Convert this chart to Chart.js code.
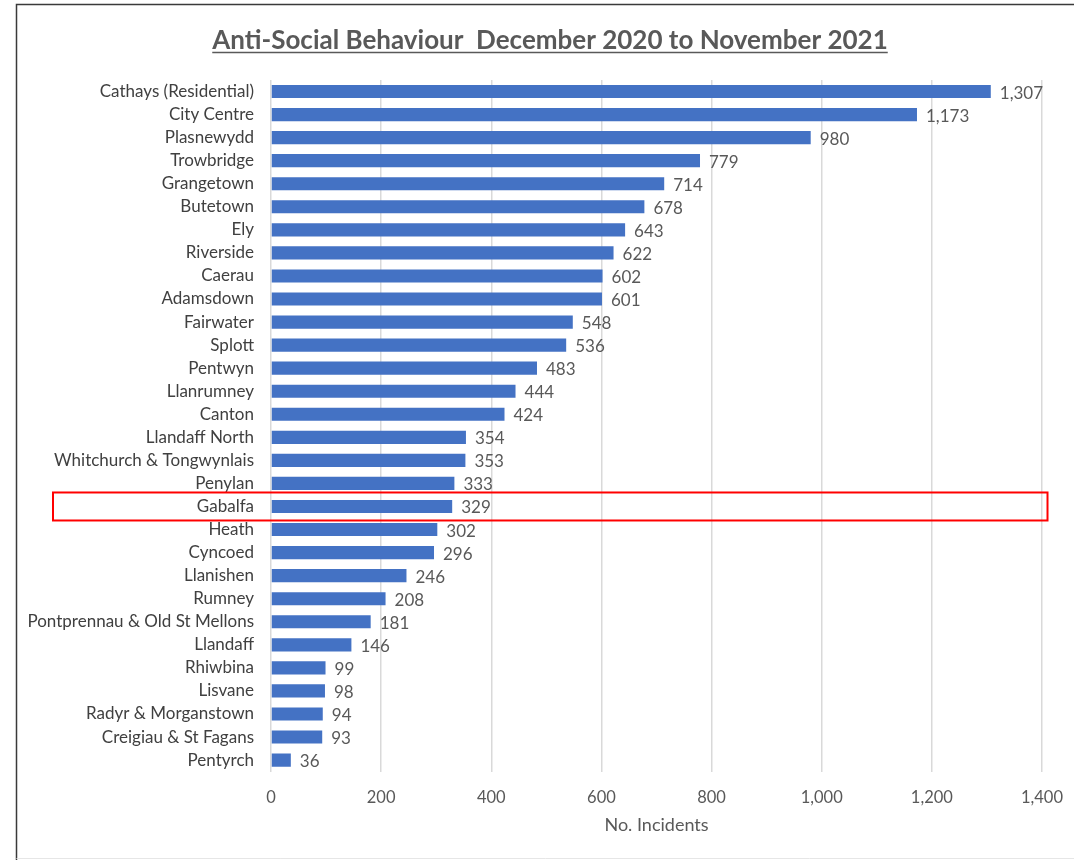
<!DOCTYPE html>
<html>
<head>
<meta charset="utf-8">
<script src="https://cdn.jsdelivr.net/npm/chart.js@4.4.0/dist/chart.umd.min.js"></script>
<style>
html,body{margin:0;padding:0;background:#fff;}
#wrap{position:relative;width:1074px;height:860px;}
</style>
</head>
<body>
<div id="wrap"><canvas id="c" width="1074" height="860"></canvas></div>
<script>
const chartTitle = "Anti-Social Behaviour  December 2020 to November 2021";
const axisTitle = "No. Incidents";
const categories = ["Cathays (Residential)","City Centre","Plasnewydd","Trowbridge","Grangetown","Butetown","Ely","Riverside","Caerau","Adamsdown","Fairwater","Splott","Pentwyn","Llanrumney","Canton","Llandaff North","Whitchurch & Tongwynlais","Penylan","Gabalfa","Heath","Cyncoed","Llanishen","Rumney","Pontprennau & Old St Mellons","Llandaff","Rhiwbina","Lisvane","Radyr & Morganstown","Creigiau & St Fagans","Pentyrch"];
const incidents = [1307,1173,980,779,714,678,643,622,602,601,548,536,483,444,424,354,353,333,329,302,296,246,208,181,146,99,98,94,93,36];
const highlighted = "Gabalfa";
const xMin = 0, xMax = 1400, xStep = 200;

const FONT = "Lato, 'Open Sans', sans-serif";

const decor = {
  id: 'decor',
  beforeDraw(chart) {
    const ctx = chart.ctx;
    ctx.save();
    ctx.fillStyle = '#fff';
    ctx.fillRect(0, 0, chart.width, chart.height);
    ctx.strokeStyle = '#3a3a3a';
    ctx.lineWidth = 1.5;
    ctx.beginPath();
    ctx.moveTo(16.5, 860);
    ctx.lineTo(16.5, 4.5);
    ctx.lineTo(1074, 4.5);
    ctx.stroke();
    ctx.strokeStyle = '#e6e6e6';
    ctx.lineWidth = 1;
    ctx.beginPath();
    ctx.moveTo(16.5, 858.5);
    ctx.lineTo(1074, 858.5);
    ctx.stroke();
    ctx.restore();
  },
  afterDraw(chart) {
    const ctx = chart.ctx;
    const x = chart.scales.x, y = chart.scales.y;
    ctx.save();
    // title
    ctx.font = "bold 26px " + FONT;
    ctx.fillStyle = '#595959';
    ctx.textAlign = 'center';
    ctx.textBaseline = 'alphabetic';
    const cx = 550, ty = 49;
    ctx.fillText(chartTitle, cx, ty);
    const w = ctx.measureText(chartTitle).width;
    ctx.strokeStyle = '#595959';
    ctx.lineWidth = 1.5;
    ctx.beginPath();
    ctx.moveTo(cx - w/2, ty + 3.5);
    ctx.lineTo(cx + w/2, ty + 3.5);
    ctx.stroke();
    // data labels
    ctx.font = "17px " + FONT;
    ctx.fillStyle = '#595959';
    ctx.textAlign = 'left';
    ctx.textBaseline = 'middle';
    const meta = chart.getDatasetMeta(0);
    meta.data.forEach((bar, i) => {
      ctx.fillText(incidents[i].toLocaleString('en-US'), bar.x + 9, bar.y + 1.5);
    });
    // highlight box
    const idx = categories.indexOf(highlighted);
    const py = y.getPixelForValue(idx);
    ctx.strokeStyle = '#ff0000';
    ctx.lineWidth = 2;
    ctx.strokeRect(53, py - 14, x.getPixelForValue(1410) - 53, 28);
    ctx.restore();
  }
};

new Chart(document.getElementById('c'), {
  type: 'bar',
  data: {
    labels: categories,
    datasets: [{
      data: incidents,
      backgroundColor: '#4472C4',
      categoryPercentage: 1.0,
      barPercentage: 0.57
    }]
  },
  options: {
    indexAxis: 'y',
    responsive: false,
    animation: false,
    layout: { padding: { top: 80, right: 32, bottom: 24, left: 0 } },
    plugins: { legend: { display: false }, tooltip: { enabled: false } },
    scales: {
      x: {
        min: xMin, max: xMax,
        ticks: { stepSize: xStep, color: '#595959', font: { family: FONT, size: 16.5 }, padding: 0,
                 callback: v => v.toLocaleString('en-US') },
        grid: { color: '#d9d9d9', lineWidth: 1.5, drawTicks: true, tickLength: 16, tickColor: 'rgba(0,0,0,0)' },
        border: { display: false },
        title: { display: true, text: axisTitle, color: '#595959', font: { family: FONT, size: 18 }, padding: { top: 7, bottom: 0 } }
      },
      y: {
        ticks: { color: '#404040', font: { family: FONT, size: 17 }, padding: 17, autoSkip: false },
        grid: { display: false, drawTicks: false },
        border: { display: false },
        afterFit(s) { s.width = 271; }
      }
    }
  },
  plugins: [decor]
});
</script>
</body>
</html>
